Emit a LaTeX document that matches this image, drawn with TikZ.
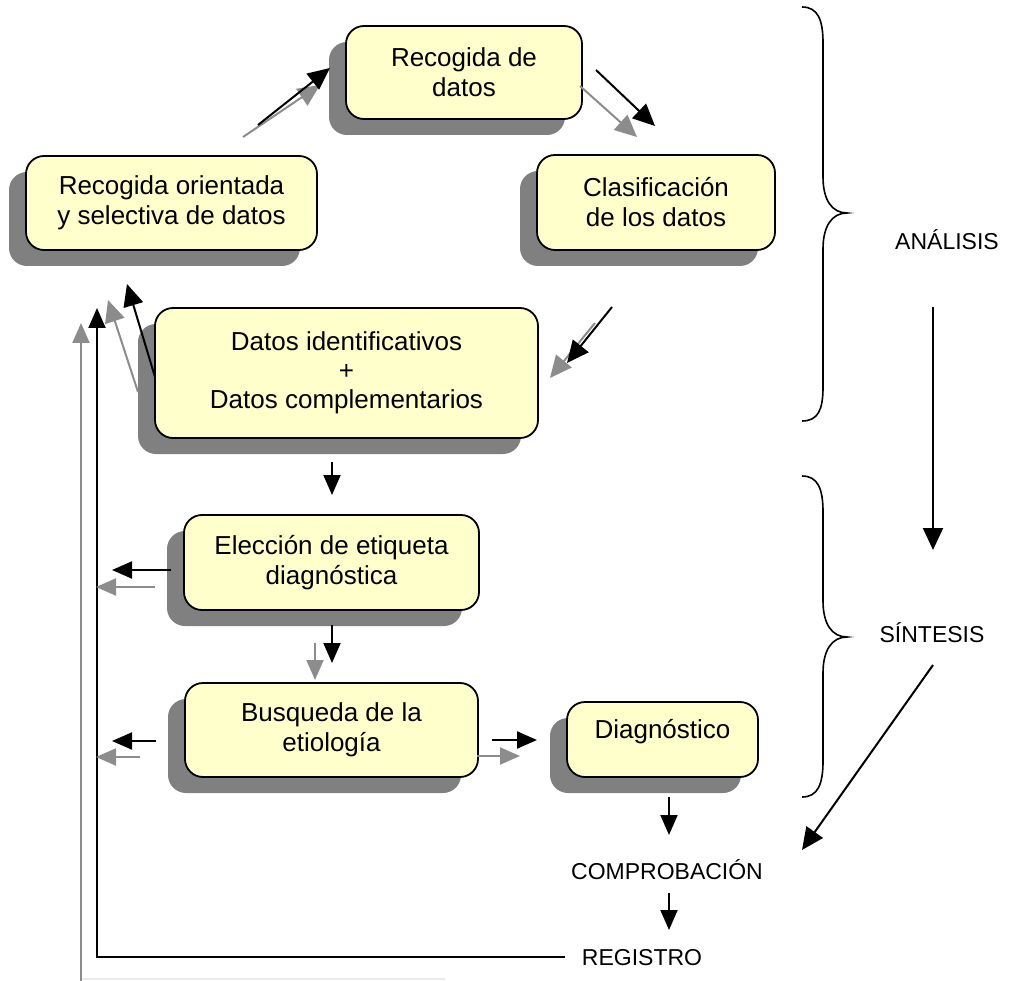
\documentclass[tikz,border=0pt]{standalone}
\usepackage{fontspec}
\setmainfont{Liberation Sans}
\usetikzlibrary{arrows.meta,shadows}
\definecolor{boxfill}{HTML}{FFFFCC}
\definecolor{shadowgray}{HTML}{808080}
\definecolor{arrgray}{HTML}{8C8C8C}
\definecolor{faintgray}{HTML}{EBEBEB}
\begin{document}
\begin{tikzpicture}[x=1pt,y=-1pt,
  box/.style={draw=black, line width=1.8pt, fill=boxfill, rounded corners=18pt,
    inner sep=0pt, align=center, font=\fontsize{26}{30}\selectfont,
    drop shadow={shadow xshift=-17pt, shadow yshift=-16pt, fill=shadowgray, opacity=1}},
  lbl/.style={font=\fontsize{23}{27}\selectfont, inner sep=0pt},
  blk/.style={draw=black, line width=2pt, -{Triangle[length=22pt,width=20pt]}},
  gry/.style={draw=arrgray, line width=2pt, -{Triangle[length=22pt,width=20pt]}},
  small/.style={-{Triangle[length=20pt,width=17pt]}},
  brace/.style={draw=black, line width=1.6pt},
]
\useasboundingbox (0,0) rectangle (1012,981);

% boxes
\node[box, minimum width=236pt, minimum height=93pt] (rd) at (464,72.5) {Recogida de\\datos};
\node[box, minimum width=291pt, minimum height=94pt] (ro) at (171.5,203) {Recogida orientada\\y selectiva de datos};
\node[box, minimum width=238pt, minimum height=95pt] (cl) at (656,202.5) {Clasificación\\de los datos};
\node[box, minimum width=383pt, minimum height=130pt, font=\fontsize{26}{29}\selectfont] (di) at (346.5,373) {Datos identificativos\\+\\Datos complementarios};
\node[box, minimum width=295pt, minimum height=95pt] (el) at (331.5,562.5) {Elección de etiqueta\\diagnóstica};
\node[box, minimum width=293pt, minimum height=94pt] (bu) at (331.5,730) {Busqueda de la\\etiología};
\node[box, minimum width=191pt, minimum height=75pt] (dg) at (662.5,739.5) {};
\node[font=\fontsize{26}{30}\selectfont, inner sep=0pt] (dgt) at ([yshift=8pt]dg.center) {Diagnóstico};

% labels
\node[lbl] (comp) at (667,870) {COMPROBACIÓN};
\node[lbl] (reg) at (642,958) {REGISTRO};
\node[lbl] (ana) at (947,240) {ANÁLISIS};
\node[lbl] (sin) at (932,633) {SÍNTESIS};

% arrow end coordinates
\coordinate (a1s) at (258,125); \coordinate (a1e) at (330,68);
\coordinate (a2s) at (243,137); \coordinate (a2e) at (320,85);
\coordinate (a3s) at (596,70);  \coordinate (a3e) at (655,126);
\coordinate (a4s) at (580,86);  \coordinate (a4e) at (637,137);
\coordinate (b1s) at (612,307); \coordinate (b1e) at (567,363);
\coordinate (b2s) at (595,323); \coordinate (b2e) at (550,378);
\coordinate (c1s) at (155,377); \coordinate (c1e) at (127,284);
\coordinate (c2s) at (138,392); \coordinate (c2e) at (108,300);
\coordinate (fbs) at (565,957); \coordinate (fbc) at (97,957); \coordinate (fbe) at (97,308);
\coordinate (fgs) at (81,981);  \coordinate (fge) at (81,323);
\coordinate (ffs) at (81,979);  \coordinate (ffe) at (445,979);
\coordinate (d1s) at (332,462); \coordinate (d1e) at (332,495);
\coordinate (e1s) at (171,570); \coordinate (e1e) at (112,570);
\coordinate (e2s) at (155,587); \coordinate (e2e) at (96,587);
\coordinate (f1s) at (332,625); \coordinate (f1e) at (332,663);
\coordinate (f2s) at (315,643); \coordinate (f2e) at (315,680);
\coordinate (g1s) at (156,741); \coordinate (g1e) at (112,741);
\coordinate (g2s) at (140,757); \coordinate (g2e) at (96,757);
\coordinate (h1s) at (492,740); \coordinate (h1e) at (537,740);
\coordinate (h2s) at (477,756); \coordinate (h2e) at (520,756);
\coordinate (k1s) at (669,797); \coordinate (k1e) at (669,835);
\coordinate (k2s) at (669,893); \coordinate (k2e) at (669,930);
\coordinate (r1s) at (933,307); \coordinate (r1e) at (933,550);
\coordinate (r2s) at (933,665); \coordinate (r2e) at (802,850);

% connectors
\draw[gry] (a2s) -- (a2e);
\draw[blk] (a1s) -- (a1e);
\draw[gry] (a4s) -- (a4e);
\draw[blk] (a3s) -- (a3e);
\draw[gry] (b2s) -- (b2e);
\draw[blk] (b1s) -- (b1e);
\draw[gry] (c2s) -- (c2e);
\draw[blk] (c1s) -- (c1e);
\draw[faintgray, line width=1.5pt] (ffs) -- (ffe);
\draw[gry, small] (fgs) -- (fge);
\draw[blk, small] (fbs) -- (fbc) -- (fbe);
\draw[blk, small] (d1s) -- (d1e);
\draw[blk, small] (e1s) -- (e1e);
\draw[gry, small] (e2s) -- (e2e);
\draw[gry, small] (f2s) -- (f2e);
\draw[blk, small] (f1s) -- (f1e);
\draw[blk, small] (g1s) -- (g1e);
\draw[gry, small] (g2s) -- (g2e);
\draw[blk, small] (h1s) -- (h1e);
\draw[gry, small] (h2s) -- (h2e);
\draw[blk, small] (k1s) -- (k1e);
\draw[blk, small] (k2s) -- (k2e);
\draw[blk] (r1s) -- (r1e);
\draw[blk] (r2s) -- (r2e);

% braces
\draw[brace] (802,7) .. controls (818,7) and (823,20) .. (823,43) -- (823,177)
  .. controls (823,200) and (832,213) .. (847,213)
  .. controls (832,213) and (823,226) .. (823,249) -- (823,387)
  .. controls (823,410) and (818,421) .. (802,421);
\draw[brace] (802,476) .. controls (818,476) and (823,489) .. (823,512) -- (823,601)
  .. controls (823,624) and (832,637) .. (847,637)
  .. controls (832,637) and (823,650) .. (823,673) -- (823,761)
  .. controls (823,784) and (818,797) .. (802,797);
\end{tikzpicture}
\end{document}
